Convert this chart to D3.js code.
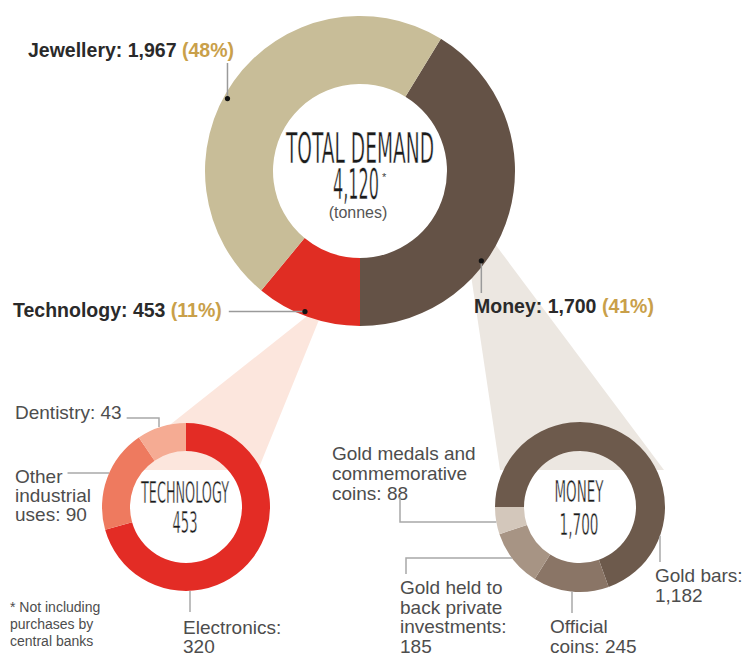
<!DOCTYPE html>
<html>
<head>
<meta charset="utf-8">
<script src="https://cdn.jsdelivr.net/npm/d3@7"></script>
<style>
  body { margin: 0; background: #fff; }
  svg { display: block; }
</style>
</head>
<body>
<script>
let width = 745;
let height = 656;

// --- data ---
const mainCategories = ["Money", "Technology", "Jewellery"];
const mainValues = [1700, 453, 1967];
const mainShares = ["41%", "11%", "48%"];
const mainColors = ["#645246", "#e02d23", "#c8bd98"];
const totalDemand = "4,120";

const techCategories = ["Electronics", "Other industrial uses", "Dentistry"];
const techValues = [320, 90, 43];
const techColors = ["#e32c25", "#ee7a5f", "#f5ab93"];
const techLabels = [["Electronics:", "320"], ["Other", "industrial", "uses: 90"], ["Dentistry: 43"]];

const moneyCategories = ["Gold bars", "Official coins", "Gold held to back private investments", "Gold medals and commemorative coins"];
const moneyValues = [1182, 245, 185, 88];
const moneyColors = ["#6d5a4c", "#8a7566", "#a79484", "#d3c7bb"];
const moneyLabels = [["Gold bars:", "1,182"], ["Official", "coins: 245"], ["Gold held to", "back private", "investments:", "185"], ["Gold medals and", "commemorative", "coins: 88"]];

const footnote = ["* Not including", "purchases by", "central banks"];

let svg = d3.select("body").append("svg")
            .attr("width", width)
            .attr("height", height);

const fmt = d3.format(",");
const narrow = "'Liberation Sans Narrow', 'DejaVu Sans Condensed', sans-serif";
const sans = "'Liberation Sans', Arial, sans-serif";

function onArc(c, r, a) {
  return [c.x + r * Math.sin(a), c.y - r * Math.cos(a)];
}

// funnels behind the donuts
let line = d3.line();
svg.append("path")
   .attr("d", line([[321, 305], [325, 305], [258, 470], [113, 470]]) + "Z")
   .attr("fill", "#fce6dd");
svg.append("path")
   .attr("d", line([[468, 255], [492, 240], [664, 470], [500, 470]]) + "Z")
   .attr("fill", "#ece7e1");

// --- donut helper ---
function donut(center, rOuter, rInner, values, colors, start) {
  let pie = d3.pie().sort(null)
              .startAngle(start)
              .endAngle(start + 2 * Math.PI);
  let arcs = pie(values);
  let arc = d3.arc().innerRadius(rInner).outerRadius(rOuter);
  svg.append("g")
     .attr("transform", `translate(${center.x},${center.y})`)
     .selectAll("path")
     .data(arcs)
     .enter()
     .append("path")
     .attr("d", arc)
     .attr("fill", (d, i) => colors[i]);
  return arcs;
}

// tall thin condensed titles: squeeze a narrow font and thin it with a white edge
function squeezed(x, y, str, size, len) {
  svg.append("text")
     .attr("x", x - len / 2)
     .attr("y", y)
     .attr("textLength", len)
     .attr("lengthAdjust", "spacingAndGlyphs")
     .style("font-family", narrow)
     .style("font-size", size + "px")
     .attr("fill", "#1a1a1a")
     .attr("stroke", "#fff")
     .attr("stroke-width", 0.5)
     .text(str);
}

// --- main donut ---
const mainC = { x: 360, y: 171 };
const mainStart = Math.PI - 2 * Math.PI * mainValues[0] / d3.sum(mainValues);
let mainArcs = donut(mainC, 155, 87, mainValues, mainColors, mainStart);

squeezed(mainC.x, 163, "TOTAL DEMAND", 43, 148);
squeezed(mainC.x - 4, 199, totalDemand, 43, 46);
svg.append("text").attr("x", mainC.x + 22).attr("y", 181)
   .style("font-family", sans).style("font-size", "11px").attr("fill", "#444").text("*");
svg.append("text").attr("x", mainC.x - 2).attr("y", 218)
   .attr("text-anchor", "middle")
   .style("font-family", sans).style("font-size", "16px").attr("fill", "#555")
   .text("(tonnes)");

// main labels
const mainLabelPos = [{ x: 474, y: 313 }, { x: 13, y: 317 }, { x: 28, y: 57 }];
const mainDotFrac = [0.64, 0.54, 0.46];

let labelNodes = mainCategories.map((name, i) => {
  let t = svg.append("text")
             .attr("x", mainLabelPos[i].x)
             .attr("y", mainLabelPos[i].y)
             .style("font-family", sans)
             .style("font-weight", "bold")
             .style("font-size", "19.5px")
             .attr("fill", "#2a2a2a");
  t.append("tspan").text(name + ": " + fmt(mainValues[i]) + " ");
  t.append("tspan").attr("fill", "#c9a04a").text("(" + mainShares[i] + ")");
  return t;
});

mainArcs.forEach((a, i) => {
  let ang = a.startAngle + mainDotFrac[i] * (a.endAngle - a.startAngle);
  let p = onArc(mainC, 151, ang);
  let pts;
  if (i === 0) pts = [p, [p[0], 293]];
  if (i === 1) {
    let end = mainLabelPos[1].x + labelNodes[1].node().getComputedTextLength() + 7;
    pts = [[end, p[1]], p];
  }
  if (i === 2) pts = [[p[0], 63], p];
  svg.append("path").attr("d", line(pts))
     .attr("stroke", "#9a9a9a").attr("stroke-width", 1.5).attr("fill", "none");
  svg.append("circle").attr("cx", p[0]).attr("cy", p[1]).attr("r", 2.6).attr("fill", "#111");
});

// --- small donuts ---
function labelBlock(x, y0, lines, step, size) {
  let t = svg.append("text")
             .style("font-family", sans)
             .style("font-size", size + "px")
             .attr("fill", "#4d4d4d");
  lines.forEach((s, k) => {
    t.append("tspan").attr("x", x).attr("y", y0 + k * step).text(s);
  });
  return t;
}

function leader(pts) {
  svg.append("path").attr("d", line(pts))
     .attr("stroke", "#a8a8a8").attr("stroke-width", 1.5).attr("fill", "none");
}

function edgeX(c, r, y) { return c.x - Math.sqrt(r * r - (y - c.y) * (y - c.y)); }
function edgeY(c, r, x) { return c.y + Math.sqrt(r * r - (x - c.x) * (x - c.x)); }

// technology
const techC = { x: 186, y: 507 };
const techR = 84;
donut(techC, techR, 56, techValues, techColors, 0);
squeezed(techC.x - 1, 503, "TECHNOLOGY", 30, 88);
squeezed(techC.x - 1, 533, fmt(d3.sum(techValues)), 30, 25);

labelBlock(183, 634, techLabels[0], 19, 19);
leader([[190, edgeY(techC, techR, 190)], [190, 612]]);

let other = labelBlock(15, 483, techLabels[1], 19, 19);
let otherW = other.select("tspan").node().getComputedTextLength();
leader([[15 + otherW + 5, 473], [edgeX(techC, techR, 473), 473]]);

let dent = labelBlock(15, 419, techLabels[2], 19, 19);
let dentW = dent.select("tspan").node().getComputedTextLength();
leader([[15 + dentW + 5, 418], [159, 418], [159, 427]]);

// money
const moneyC = { x: 580, y: 507 };
const moneyR = 85;
donut(moneyC, moneyR, 56, moneyValues, moneyColors, -Math.PI / 2);
squeezed(moneyC.x - 1, 502, "MONEY", 31, 49);
squeezed(moneyC.x - 1, 535, fmt(d3.sum(moneyValues)), 31, 39);

labelBlock(655, 582, moneyLabels[0], 20, 19);
leader([[660, edgeY(moneyC, moneyR, 660)], [660, 562]]);

labelBlock(550, 633, moneyLabels[1], 20, 19);
leader([[572, edgeY(moneyC, moneyR, 572)], [572, 613]]);

labelBlock(400, 594, moneyLabels[2], 19.7, 19);
leader([[406, 574], [406, 558], [edgeX(moneyC, moneyR, 558), 558]]);

labelBlock(332, 460, moneyLabels[3], 20, 19);
leader([[400, 497], [400, 522], [edgeX(moneyC, moneyR, 522), 522]]);

// footnote
labelBlock(10, 612, footnote, 17, 14);
</script>
</body>
</html>
